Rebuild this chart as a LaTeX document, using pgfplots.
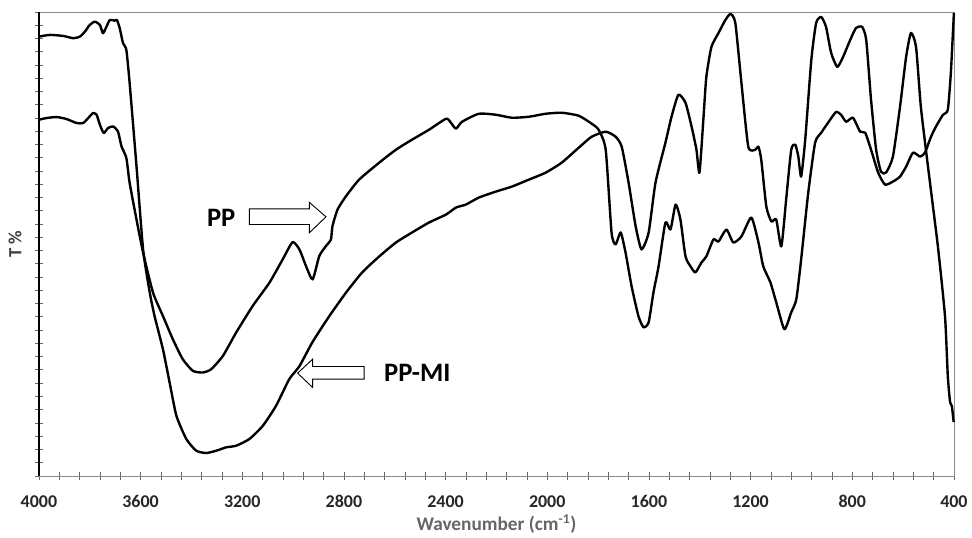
\documentclass[border=0pt]{standalone}
\usepackage{fontspec}
\setmainfont{Carlito}
\usepackage{pgfplots}
\pgfplotsset{compat=1.18}
\begin{document}
\begin{tikzpicture}
\begin{axis}[
  scale only axis,
  width=687.75pt, height=348.75pt,
  x dir=reverse,
  xmin=400, xmax=4000, ymin=0, ymax=465,
  xtick={400,800,...,4000},
  minor xtick={480,560,640,720,880,960,1040,1120,1280,1360,1440,1520,1680,1760,1840,1920,2080,2160,2240,2320,2480,2560,2640,2720,2880,2960,3040,3120,3280,3360,3440,3520,3680,3760,3840,3920},
  ytick={0,66.43,132.86,199.29,265.71,332.14,398.57,465},
  minor ytick={13.29,26.57,39.86,53.14,79.71,93,106.29,119.57,146.14,159.43,172.71,186,212.57,225.86,239.14,252.43,279,292.29,305.57,318.86,345.43,358.71,372,385.29,411.86,425.14,438.43,451.71},
  yticklabels={},
  xtick pos=bottom, ytick pos=left,
  tick align=center,
  major tick length=6pt, minor tick length=5.5pt,
  tick style={black!60, line width=0.6pt},
  axis line style={black!45, line width=0.6pt},
  /pgf/number format/assume math mode=true,
  /pgf/number format/1000 sep={},
  xticklabel style={font=\fontsize{13.5}{16}\selectfont\bfseries, text=black!85, text height=9pt, text depth=0pt, yshift=-8pt},
  xlabel={Wavenumber (cm\textsuperscript{-1})},
  every axis x label/.style={at={(axis description cs:0.5,0)}, anchor=center, yshift=-36pt, font=\fontsize{14.5}{17}\selectfont\bfseries, text=black!60},
  ylabel={T \%},
  every axis y label/.style={at={(axis description cs:-0.0262,0.5)}, rotate=90, anchor=center, font=\fontsize{14}{16}\selectfont\bfseries, text=black!75},
  clip=false,
]
% PP-MI
\addplot[black, line width=1.8pt, line join=round, smooth, tension=0.35] table[row sep=\\] {
x y\\
4000 440.3\\ 3957 442\\ 3905 441\\ 3865 438.7\\ 3839 440.3\\ 3819 445.3\\ 3800 452\\ 3780 455.3\\ 3760 452\\ 3748 443.7\\ 3734 450.3\\ 3721 457\\ 3702 456.3\\ 3693 457\\ 3682 448.7\\ 3669 433.7\\ 3656 427\\ 3643 393.7\\ 3616 310.3\\ 3590 227\\ 3564 184\\ 3545 160.3\\ 3512 127\\ 3486 94\\ 3459 60.3\\ 3420 37\\ 3381 25.3\\ 3342 23\\ 3302 25.3\\ 3263 28.7\\ 3224 30.3\\ 3172 37\\ 3119 50.3\\ 3067 70.3\\ 3015 97\\ 2975 110\\ 2924 134\\ 2858 160\\ 2791 184\\ 2728 204\\ 2661 220\\ 2595 234\\ 2532 244\\ 2465 254\\ 2398 262\\ 2359 269\\ 2320 272\\ 2269 279\\ 2202 285\\ 2139 290\\ 2072 297\\ 2006 304\\ 1943 314\\ 1876 329\\ 1825 340\\ 1770 345\\ 1731 340\\ 1707 330\\ 1680 294\\ 1652 250\\ 1629 227\\ 1601 244\\ 1574 294\\ 1535 334\\ 1511 360\\ 1484 382\\ 1456 374\\ 1432 350\\ 1413 327\\ 1401 304\\ 1385 360\\ 1374 400\\ 1354 430\\ 1326 444\\ 1299 457\\ 1279 463\\ 1260 454\\ 1236 394\\ 1209 330\\ 1181 327\\ 1169 330\\ 1158 317\\ 1138 270\\ 1118 255\\ 1099 257\\ 1079 230\\ 1060 277\\ 1040 327\\ 1024 332\\ 1012 320\\ 1001 300\\ 985 337\\ 961 417\\ 942 454\\ 922 460\\ 903 450\\ 883 424\\ 859 410\\ 836 420\\ 808 437\\ 785 449\\ 761 450\\ 745 437\\ 726 377\\ 706 327\\ 687 305\\ 667 304\\ 640 320\\ 612 370\\ 588 420\\ 569 444\\ 549 430\\ 530 370\\ 502 310\\ 463 230\\ 435 160\\ 424 100\\ 415 74\\ 408 70\\ 401 54\\
};
% PP
\addplot[black, line width=1.8pt, line join=round, smooth, tension=0.35] table[row sep=\\] {
x y\\
4000 357\\ 3970 358.7\\ 3930 359.7\\ 3891 357.7\\ 3852 353.7\\ 3826 353.7\\ 3806 358.7\\ 3787 363.7\\ 3773 362\\ 3760 352\\ 3745 343.7\\ 3728 348.7\\ 3708 350.3\\ 3689 345.3\\ 3675 330.3\\ 3656 318.7\\ 3643 293.7\\ 3616 257\\ 3590 223.7\\ 3551 183.7\\ 3512 160.3\\ 3473 137\\ 3434 117\\ 3394 105.3\\ 3355 103.7\\ 3322 107\\ 3276 120.3\\ 3224 143.7\\ 3159 170.3\\ 3093 193.7\\ 3041 217\\ 3002 234.3\\ 2975 227\\ 2949 210.3\\ 2923 197\\ 2897 220.3\\ 2871 230.3\\ 2851 237\\ 2845 250.3\\ 2825 267\\ 2792 280.3\\ 2740 297\\ 2661 314\\ 2595 327\\ 2532 337\\ 2465 347\\ 2398 358\\ 2379 354\\ 2359 348\\ 2335 355\\ 2269 363\\ 2202 362\\ 2139 359\\ 2072 360\\ 2006 363\\ 1943 364\\ 1876 361\\ 1825 353\\ 1798 347\\ 1770 327\\ 1747 244\\ 1731 232\\ 1711 244\\ 1692 224\\ 1668 190\\ 1641 160\\ 1621 149\\ 1601 154\\ 1582 184\\ 1562 210\\ 1535 254\\ 1515 247\\ 1495 272\\ 1476 257\\ 1456 220\\ 1436 210\\ 1417 204\\ 1393 214\\ 1374 220\\ 1346 237\\ 1326 235\\ 1295 247\\ 1268 234\\ 1236 240\\ 1197 259\\ 1169 234\\ 1150 210\\ 1122 194\\ 1099 174\\ 1067 147\\ 1040 164\\ 1020 177\\ 1001 217\\ 973 284\\ 946 334\\ 922 344\\ 887 357\\ 863 365\\ 844 362\\ 824 355\\ 797 359\\ 769 345\\ 749 344\\ 726 327\\ 698 304\\ 671 292\\ 640 295\\ 612 300\\ 588 310\\ 561 324\\ 533 320\\ 514 324\\ 490 340\\ 471 350\\ 443 362\\ 424 367\\ 412 404\\ 400 464\\
};
% left axis line in black
\draw[black, line width=0.9pt] (rel axis cs:0,0) -- (rel axis cs:0,1);
% annotations
\draw[black, line width=0.7pt, fill=white] (axis cs:3171.7,267.7) -- (axis cs:2936.1,267.7) -- (axis cs:2936.1,274.3) -- (axis cs:2870.5,259.7) -- (axis cs:2936.1,243.7) -- (axis cs:2936.1,252) -- (axis cs:3171.7,252) -- cycle;
\draw[black, line width=0.7pt, fill=white] (axis cs:2720.2,109.7) -- (axis cs:2923.1,109.7) -- (axis cs:2923.1,117) -- (axis cs:2982,103) -- (axis cs:2923.1,88.7) -- (axis cs:2923.1,97) -- (axis cs:2720.2,97) -- cycle;
\node[font=\fontsize{20}{24}\selectfont\bfseries, anchor=center] at (axis cs:3282.8,258.7) {PP};
\node[font=\fontsize{20}{24}\selectfont\bfseries, anchor=center] at (axis cs:2511,103) {PP-MI};
\end{axis}
\path (current axis.south west) ++(-29.25pt,-46.5pt) coordinate (bbA);
\path (current axis.north east) ++(12pt,9pt) coordinate (bbB);
\path (bbA) rectangle (bbB);
\end{tikzpicture}
\end{document}
